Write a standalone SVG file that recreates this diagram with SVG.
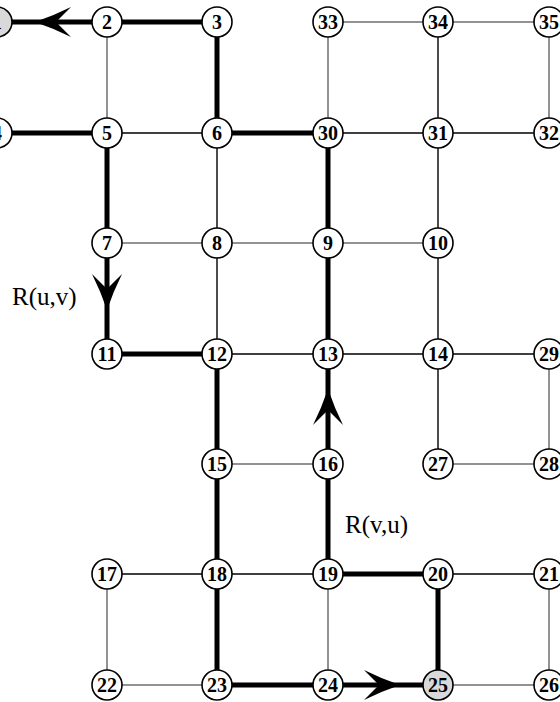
<svg xmlns="http://www.w3.org/2000/svg" width="560" height="702" viewBox="0 0 560 702">
<style>
.e{stroke:#000;stroke-width:1.4;fill:none}
.g{stroke:#6e6e6e;stroke-width:1.5;fill:none}
.t{stroke:#000;stroke-width:5;fill:none}
.n circle{fill:#fff;stroke:#000;stroke-width:1.6}
.n circle.s{fill:#d9d9d9}
.n text{font-family:"Liberation Serif","Times New Roman",serif;font-weight:bold;font-size:20px;text-anchor:middle;fill:#000}
.lbl{font-family:"Liberation Serif","Times New Roman",serif;font-size:25px;fill:#000}
</style>
<defs>
<path id="ah" d="M0,0 Q19,-6.5 36,-15 Q27,-6 21,0 Q27,6 36,15 Q19,6.5 0,0 Z" fill="#000"/>
</defs>
<rect width="560" height="702" fill="#fff"/>
<g id="connectors">
<line class="g" x1="107" y1="22" x2="107" y2="133"/>
<line class="g" x1="328" y1="22" x2="438" y2="22"/>
<line class="g" x1="438" y1="22" x2="549" y2="22"/>
<line class="g" x1="328" y1="22" x2="328" y2="133"/>
<line class="g" x1="549" y1="22" x2="549" y2="133"/>
<line class="g" x1="107" y1="243" x2="217" y2="243"/>
<line class="g" x1="217" y1="243" x2="328" y2="243"/>
<line class="g" x1="328" y1="243" x2="438" y2="243"/>
<line class="g" x1="217" y1="464" x2="328" y2="464"/>
<line class="g" x1="438" y1="464" x2="549" y2="464"/>
<line class="g" x1="549" y1="354" x2="549" y2="464"/>
<line class="g" x1="107" y1="574" x2="107" y2="685"/>
<line class="g" x1="107" y1="685" x2="217" y2="685"/>
<line class="g" x1="328" y1="574" x2="328" y2="685"/>
<line class="g" x1="438" y1="685" x2="549" y2="685"/>
<line class="g" x1="549" y1="574" x2="549" y2="685"/>
<line class="e" x1="107" y1="133" x2="217" y2="133"/>
<line class="e" x1="328" y1="133" x2="438" y2="133"/>
<line class="e" x1="438" y1="133" x2="549" y2="133"/>
<line class="e" x1="438" y1="22" x2="438" y2="133"/>
<line class="e" x1="438" y1="133" x2="438" y2="464"/>
<line class="e" x1="217" y1="133" x2="217" y2="354"/>
<line class="e" x1="217" y1="354" x2="328" y2="354"/>
<line class="e" x1="328" y1="354" x2="438" y2="354"/>
<line class="e" x1="438" y1="354" x2="549" y2="354"/>
<line class="e" x1="107" y1="574" x2="217" y2="574"/>
<line class="e" x1="217" y1="574" x2="328" y2="574"/>
<line class="e" x1="438" y1="574" x2="549" y2="574"/>
<polyline class="t" points="438,685 438,574 328,574 328,133 217,133 217,22 107,22 -3,22"/>
<polyline class="t" points="-3,133 107,133 107,354 217,354 217,685 438,685"/>
<use href="#ah" transform="translate(35,22)"/>
<use href="#ah" transform="translate(107,310) rotate(-90)"/>
<use href="#ah" transform="translate(328,389) rotate(90)"/>
<use href="#ah" transform="translate(400,685) rotate(180)"/>
</g>
<g id="n1" class="n"><circle class="s" cx="-3" cy="22" r="15"/><text x="-3" y="29">1</text></g>
<g id="n2" class="n"><circle cx="107" cy="22" r="15"/><text x="107" y="29">2</text></g>
<g id="n3" class="n"><circle cx="217" cy="22" r="15"/><text x="217" y="29">3</text></g>
<g id="n33" class="n"><circle cx="328" cy="22" r="15"/><text x="328" y="29">33</text></g>
<g id="n34" class="n"><circle cx="438" cy="22" r="15"/><text x="438" y="29">34</text></g>
<g id="n35" class="n"><circle cx="549" cy="22" r="15"/><text x="549" y="29">35</text></g>
<g id="n4" class="n"><circle cx="-3" cy="133" r="15"/><text x="-3" y="140">4</text></g>
<g id="n5" class="n"><circle cx="107" cy="133" r="15"/><text x="107" y="140">5</text></g>
<g id="n6" class="n"><circle cx="217" cy="133" r="15"/><text x="217" y="140">6</text></g>
<g id="n30" class="n"><circle cx="328" cy="133" r="15"/><text x="328" y="140">30</text></g>
<g id="n31" class="n"><circle cx="438" cy="133" r="15"/><text x="438" y="140">31</text></g>
<g id="n32" class="n"><circle cx="549" cy="133" r="15"/><text x="549" y="140">32</text></g>
<g id="n7" class="n"><circle cx="107" cy="243" r="15"/><text x="107" y="250">7</text></g>
<g id="n8" class="n"><circle cx="217" cy="243" r="15"/><text x="217" y="250">8</text></g>
<g id="n9" class="n"><circle cx="328" cy="243" r="15"/><text x="328" y="250">9</text></g>
<g id="n10" class="n"><circle cx="438" cy="243" r="15"/><text x="438" y="250">10</text></g>
<g id="n11" class="n"><circle cx="107" cy="354" r="15"/><text x="107" y="361">11</text></g>
<g id="n12" class="n"><circle cx="217" cy="354" r="15"/><text x="217" y="361">12</text></g>
<g id="n13" class="n"><circle cx="328" cy="354" r="15"/><text x="328" y="361">13</text></g>
<g id="n14" class="n"><circle cx="438" cy="354" r="15"/><text x="438" y="361">14</text></g>
<g id="n29" class="n"><circle cx="549" cy="354" r="15"/><text x="549" y="361">29</text></g>
<g id="n15" class="n"><circle cx="217" cy="464" r="15"/><text x="217" y="471">15</text></g>
<g id="n16" class="n"><circle cx="328" cy="464" r="15"/><text x="328" y="471">16</text></g>
<g id="n27" class="n"><circle cx="438" cy="464" r="15"/><text x="438" y="471">27</text></g>
<g id="n28" class="n"><circle cx="549" cy="464" r="15"/><text x="549" y="471">28</text></g>
<g id="n17" class="n"><circle cx="107" cy="574" r="15"/><text x="107" y="581">17</text></g>
<g id="n18" class="n"><circle cx="217" cy="574" r="15"/><text x="217" y="581">18</text></g>
<g id="n19" class="n"><circle cx="328" cy="574" r="15"/><text x="328" y="581">19</text></g>
<g id="n20" class="n"><circle cx="438" cy="574" r="15"/><text x="438" y="581">20</text></g>
<g id="n21" class="n"><circle cx="549" cy="574" r="15"/><text x="549" y="581">21</text></g>
<g id="n22" class="n"><circle cx="107" cy="685" r="15"/><text x="107" y="692">22</text></g>
<g id="n23" class="n"><circle cx="217" cy="685" r="15"/><text x="217" y="692">23</text></g>
<g id="n24" class="n"><circle cx="328" cy="685" r="15"/><text x="328" y="692">24</text></g>
<g id="n25" class="n"><circle class="s" cx="438" cy="685" r="15"/><text x="438" y="692">25</text></g>
<g id="n26" class="n"><circle cx="549" cy="685" r="15"/><text x="549" y="692">26</text></g>
<text class="lbl" x="12" y="305">R(u,v)</text>
<text class="lbl" x="345" y="533">R(v,u)</text>
</svg>
